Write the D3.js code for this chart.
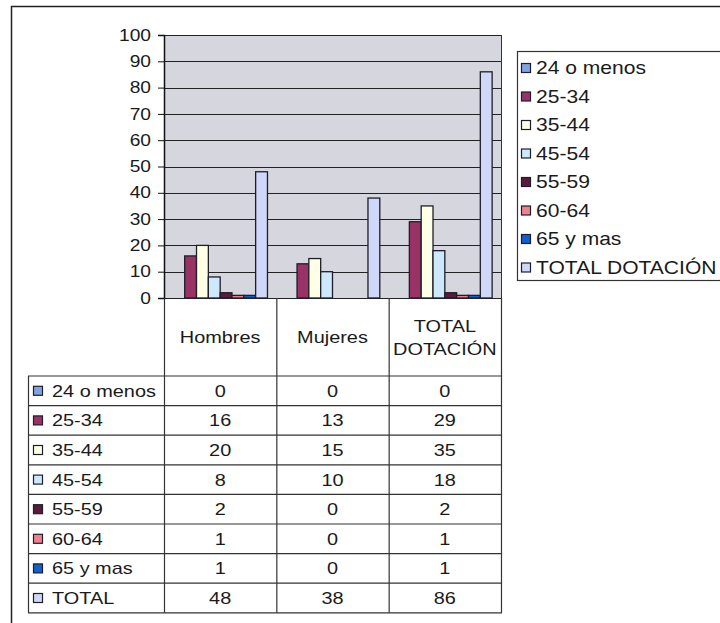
<!DOCTYPE html>
<html><head><meta charset="utf-8">
<script src="https://cdn.jsdelivr.net/npm/d3@7"></script>
<style>body{margin:0;background:#fff}svg{display:block;font-family:"Liberation Sans",Arial,sans-serif}</style>
</head><body><svg id="c" width="720" height="623"></svg>
<script>
const categories = ["Hombres", "Mujeres", "TOTAL DOTACIÓN"];
const series = ["24 o menos", "25-34", "35-44", "45-54", "55-59", "60-64", "65 y mas", "TOTAL DOTACIÓN"];
const tableLabels = ["24 o menos", "25-34", "35-44", "45-54", "55-59", "60-64", "65 y mas", "TOTAL"];
const colors = ["#7fa4e0", "#993366", "#ffffe6", "#cce8fa", "#5a1a3c", "#f08090", "#1060d0", "#cfd8f8"];
const values = [
  [0, 0, 0],
  [16, 13, 29],
  [20, 15, 35],
  [8, 10, 18],
  [2, 0, 2],
  [1, 0, 1],
  [1, 0, 1],
  [48, 38, 86]
];
const yTicks = [0, 10, 20, 30, 40, 50, 60, 70, 80, 90, 100];

const SX = 1.17, FS = 17, TXT = "#1a1a1a";
function txt(g, x, y, s, size, anchor) {
  return g.append("text").attr("transform", `translate(${x},${y}) scale(${SX},1)`)
    .attr("text-anchor", anchor || "start").attr("font-size", size || FS).attr("fill", TXT).text(s);
}

const svg = d3.select("#c");
const L = 164, R = 501, T = 35, B = 298;
const stroke = "#1e1e2a";

svg.append("rect").attr("x", 11.5).attr("y", 6.5).attr("width", 800).attr("height", 700)
  .attr("fill", "none").attr("stroke", "#222").attr("stroke-width", 1.5);

const x = d3.scaleBand().domain(categories).range([L, R]).paddingInner(0).paddingOuter(0);
const xs = d3.scaleBand().domain(series).range([0, x.bandwidth()]).paddingInner(0).paddingOuter(0.75);
const y = d3.scaleLinear().domain([0, 100]).range([B, T]);

svg.append("rect").attr("x", L).attr("y", T).attr("width", R - L).attr("height", B - T).attr("fill", "#d6d6de");

svg.append("g").selectAll("line").data(yTicks).join("line")
  .attr("x1", L).attr("x2", R).attr("y1", d => Math.round(y(d)) + 0.5).attr("y2", d => Math.round(y(d)) + 0.5)
  .attr("stroke", "#222").attr("stroke-width", 1);

series.forEach((s, i) => {
  svg.append("g").selectAll("rect").data(categories).join("rect")
    .attr("x", c => x(c) + xs(s))
    .attr("y", (c, j) => y(values[i][j]))
    .attr("width", xs.bandwidth())
    .attr("height", (c, j) => B - y(values[i][j]))
    .attr("fill", colors[i]).attr("stroke", stroke).attr("stroke-width", 1.3);
});

svg.append("line").attr("x1", R + 0.5).attr("x2", R + 0.5).attr("y1", T).attr("y2", B).attr("stroke", "#333");

const yAxis = d3.axisLeft(y).tickValues(yTicks).tickSize(6).tickPadding(7);
const gy = svg.append("g").attr("transform", `translate(${L},0)`).call(yAxis);
gy.select(".domain").attr("stroke", "#111").attr("stroke-width", 1.5);
gy.selectAll(".tick line").attr("stroke", "#111");
gy.selectAll("text").attr("font-size", 16).attr("fill", TXT)
  .attr("font-family", "Liberation Sans, Arial, sans-serif")
  .attr("x", -13 / 1.2).attr("transform", "scale(1.2,1)");

const tTop = 298, hdrBot = 376, rowH = 29.6, tLeft = 28;
const rowY = i => hdrBot + i * rowH;
const tBot = rowY(tableLabels.length);
const tg = svg.append("g");
[L, x("Mujeres"), x("TOTAL DOTACIÓN"), R].forEach(xx => {
  tg.append("line").attr("x1", xx + 0.5).attr("x2", xx + 0.5).attr("y1", tTop).attr("y2", tBot).attr("stroke", "#333").attr("stroke-width", 1.2);
});
tg.append("line").attr("x1", tLeft + 0.5).attr("x2", tLeft + 0.5).attr("y1", hdrBot).attr("y2", tBot).attr("stroke", "#333").attr("stroke-width", 1.2);
d3.range(tableLabels.length + 1).forEach(i => {
  tg.append("line").attr("x1", tLeft).attr("x2", R + 1).attr("y1", rowY(i)).attr("y2", rowY(i)).attr("stroke", "#333").attr("stroke-width", 1.2);
});
categories.forEach(c => {
  const cx = x(c) + x.bandwidth() / 2;
  if (c === "TOTAL DOTACIÓN") {
    txt(tg, cx, 332, "TOTAL", FS, "middle");
    txt(tg, cx, 355, "DOTACIÓN", FS, "middle");
  } else {
    txt(tg, cx, 343, c, FS, "middle");
  }
});
tableLabels.forEach((lab, i) => {
  const cy = rowY(i) + rowH / 2;
  tg.append("rect").attr("x", 33.5).attr("y", cy - 4.5).attr("width", 9).attr("height", 9)
    .attr("fill", colors[i]).attr("stroke", stroke).attr("stroke-width", 1.2);
  txt(tg, 52, cy + 6, lab, FS, "start");
  categories.forEach((c, j) => {
    txt(tg, x(c) + x.bandwidth() / 2, cy + 6, values[i][j], FS, "middle");
  });
});

const lg = svg.append("g");
lg.append("rect").attr("x", 517.5).attr("y", 51.5).attr("width", 300).attr("height", 229)
  .attr("fill", "#fff").attr("stroke", "#333").attr("stroke-width", 1.2);
series.forEach((s, i) => {
  const cy = 68 + i * 28.5;
  lg.append("rect").attr("x", 521.5).attr("y", cy - 4.5).attr("width", 9).attr("height", 9)
    .attr("fill", colors[i]).attr("stroke", stroke).attr("stroke-width", 1.2);
  txt(lg, 536, cy + 6, s, 18, "start");
});
</script></body></html>
